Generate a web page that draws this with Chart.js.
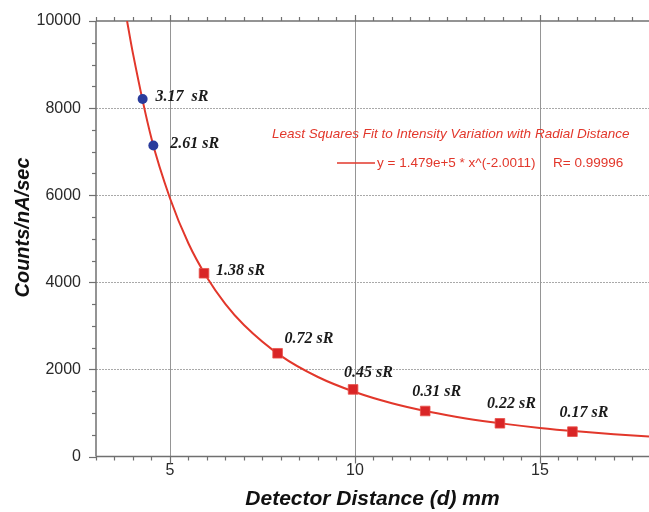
<!DOCTYPE html>
<html>
<head>
<meta charset="utf-8">
<script src="https://cdn.jsdelivr.net/npm/chart.js@4"></script>
<style>
html,body{margin:0;padding:0;background:#fff;}
canvas{display:block;}
</style>
</head>
<body>
<canvas id="c" width="649" height="512"></canvas>
<script>
// ---- data ----
const blueX = [4.26, 4.55];
const blueY = [8210, 7140];
const blueLabels = ['3.17  sR', '2.61 sR'];

const redX = [5.92, 7.91, 9.95, 11.9, 13.92, 15.88];
const redY = [4207, 2370, 1540, 1045, 762, 570];
const redLabels = ['1.38 sR', '0.72 sR', '0.45 sR', '0.31 sR', '0.22 sR', '0.17 sR'];

// fitted curve, points
const curveX = [3.84, 4.0, 4.5, 5.0, 5.5, 6.0, 6.5, 7.0, 8.0, 9.0, 10.0, 11.0, 12.0, 13.0, 14.0, 15.0, 16.0, 17.0, 17.95];
const curveY = [10000, 9250, 7300, 5930, 4890, 4110, 3500, 3020, 2310, 1825, 1480, 1222, 1027, 875, 755, 657, 578, 512, 459];

const xMajorTicks = [5, 10, 15];
const yMajorTicks = [0, 2000, 4000, 6000, 8000, 10000];
const xTitle = 'Detector Distance (d) mm';
const yTitle = 'Counts/nA/sec';
const fitTitle = 'Least Squares Fit to Intensity Variation with Radial Distance';
const fitEq = 'y = 1.479e+5 * x^(-2.0011)';
const fitR = 'R= 0.99996';

// ---- styling ----
const X_MIN = 3, X_MAX = 17.95, X_MINOR = 0.5;
const Y_MIN = 0, Y_MAX = 10000, Y_MINOR = 500;
const blueOffsets = [[13, 2], [17, 2]];
const redOffsets = [[12, 2], [7, -10], [-9, -12], [-13, -15], [-13, -15], [-13, -15]];
const RED = '#e2372b';

function range(a, b, s) { const r = []; for (let v = a; v <= b + 1e-9; v += s) r.push(Math.round(v * 1000) / 1000); return r; }
const xAllTicks = range(X_MIN, X_MAX, X_MINOR);
const yAllTicks = range(Y_MIN, Y_MAX, Y_MINOR);

const decor = {
  id: 'decor',
  beforeDatasetsDraw(chart) {
    const { ctx, chartArea: a, scales: { x, y } } = chart;
    const line = (x1, y1, x2, y2) => { ctx.beginPath(); ctx.moveTo(x1, y1); ctx.lineTo(x2, y2); ctx.stroke(); };
    ctx.save();
    // horizontal grid (dashed)
    ctx.lineWidth = 1;
    ctx.strokeStyle = '#a9a9a9';
    ctx.setLineDash([2, 1]);
    yMajorTicks.forEach(v => {
      if (v === Y_MIN || v === Y_MAX) return;
      const py = Math.round(y.getPixelForValue(v)) + 0.5;
      line(a.left, py, a.right, py);
    });
    ctx.setLineDash([]);
    // vertical grid
    ctx.strokeStyle = '#959595';
    xMajorTicks.forEach(v => {
      const px = Math.round(x.getPixelForValue(v)) + 0.5;
      line(px, a.top, px, a.bottom);
    });
    // axes
    ctx.strokeStyle = '#707070';
    ctx.lineWidth = 1.5;
    line(a.left, a.top, a.right, a.top);
    line(a.left, a.bottom, a.right, a.bottom);
    line(a.left, a.top, a.left, a.bottom);
    // tick marks
    ctx.lineWidth = 1.2;
    xAllTicks.forEach(v => {
      const px = Math.round(x.getPixelForValue(v)) + 0.5;
      const maj = xMajorTicks.includes(v);
      line(px, a.bottom, px, a.bottom + (maj ? 7 : 4));
      line(px, a.top, px, a.top - (maj ? 6 : 4));
    });
    yAllTicks.forEach(v => {
      const py = Math.round(y.getPixelForValue(v)) + 0.5;
      const maj = yMajorTicks.includes(v);
      line(a.left, py, a.left - (maj ? 7 : 4), py);
    });
    ctx.restore();
  },
  afterDatasetsDraw(chart) {
    const { ctx } = chart;
    ctx.save();
    // point labels
    ctx.fillStyle = '#1a1a1a';
    ctx.font = 'italic bold 16px "Liberation Serif"';
    ctx.textAlign = 'left';
    ctx.textBaseline = 'alphabetic';
    const m0 = chart.getDatasetMeta(0), m1 = chart.getDatasetMeta(1);
    m0.data.forEach((p, i) => ctx.fillText(blueLabels[i], p.x + blueOffsets[i][0], p.y + blueOffsets[i][1]));
    m1.data.forEach((p, i) => ctx.fillText(redLabels[i], p.x + redOffsets[i][0], p.y + redOffsets[i][1]));
    // fit legend
    ctx.fillStyle = RED;
    ctx.font = 'italic 13.5px "Liberation Sans"';
    ctx.fillText(fitTitle, 272, 138);
    ctx.font = '13.5px "Liberation Sans"';
    ctx.fillText(fitEq, 377, 167);
    ctx.fillText(fitR, 553, 167);
    ctx.strokeStyle = RED;
    ctx.lineWidth = 1.5;
    ctx.beginPath(); ctx.moveTo(337, 163); ctx.lineTo(375, 163); ctx.stroke();
    // y title
    ctx.fillStyle = '#111';
    ctx.font = 'italic bold 20px "Liberation Sans"';
    ctx.translate(28.5, 227.5);
    ctx.rotate(-Math.PI / 2);
    ctx.textAlign = 'center';
    ctx.fillText(yTitle, 0, 0);
    ctx.restore();
  }
};

new Chart(document.getElementById('c'), {
  type: 'scatter',
  data: {
    datasets: [
      {
        data: blueX.map((v, i) => ({ x: v, y: blueY[i] })),
        pointStyle: 'circle', pointRadius: 5, pointHoverRadius: 5,
        backgroundColor: '#2a3c9c', borderColor: '#2a3c9c', borderWidth: 0
      },
      {
        data: redX.map((v, i) => ({ x: v, y: redY[i] })),
        pointStyle: 'rect', pointRadius: 6.8, pointHoverRadius: 6.8,
        backgroundColor: '#d92526', borderColor: '#e8504a', borderWidth: 0.8
      },
      {
        type: 'line',
        data: curveX.map((v, i) => ({ x: v, y: curveY[i] })),
        showLine: true, borderColor: RED, borderWidth: 2, pointRadius: 0,
        cubicInterpolationMode: 'monotone', fill: false
      }
    ]
  },
  options: {
    responsive: false,
    animation: false,
    devicePixelRatio: 1,
    layout: { autoPadding: false, padding: { top: 21, right: 0, left: 0, bottom: 0 } },
    plugins: { legend: { display: false }, tooltip: { enabled: false } },
    scales: {
      x: {
        type: 'linear', min: X_MIN, max: X_MAX,
        afterBuildTicks: s => { s.ticks = xAllTicks.map(v => ({ value: v })); },
        afterFit: s => { s.height = 55.5; s.paddingLeft = 0; s.paddingRight = 0; },
        grid: { display: false, drawTicks: false }, border: { display: false },
        ticks: {
          autoSkip: false, maxRotation: 0, padding: 4, color: '#2a2a2a',
          font: { family: 'Liberation Sans', size: 16 },
          callback: v => xMajorTicks.includes(v) ? String(v) : ''
        },
        title: {
          display: true, text: xTitle, color: '#111', padding: 0,
          font: { family: 'Liberation Sans', size: 21, style: 'italic', weight: 'bold' }
        }
      },
      y: {
        type: 'linear', min: Y_MIN, max: Y_MAX,
        afterBuildTicks: s => { s.ticks = yAllTicks.map(v => ({ value: v })); },
        afterFit: s => { s.width = 96; s.paddingTop = 0; s.paddingBottom = 0; },
        grid: { display: false, drawTicks: false }, border: { display: false },
        ticks: {
          autoSkip: false, padding: 15, color: '#2a2a2a',
          font: { family: 'Liberation Sans', size: 16 },
          callback: v => yMajorTicks.includes(v) ? String(v) : ''
        }
      }
    }
  },
  plugins: [decor]
});
</script>
</body>
</html>
